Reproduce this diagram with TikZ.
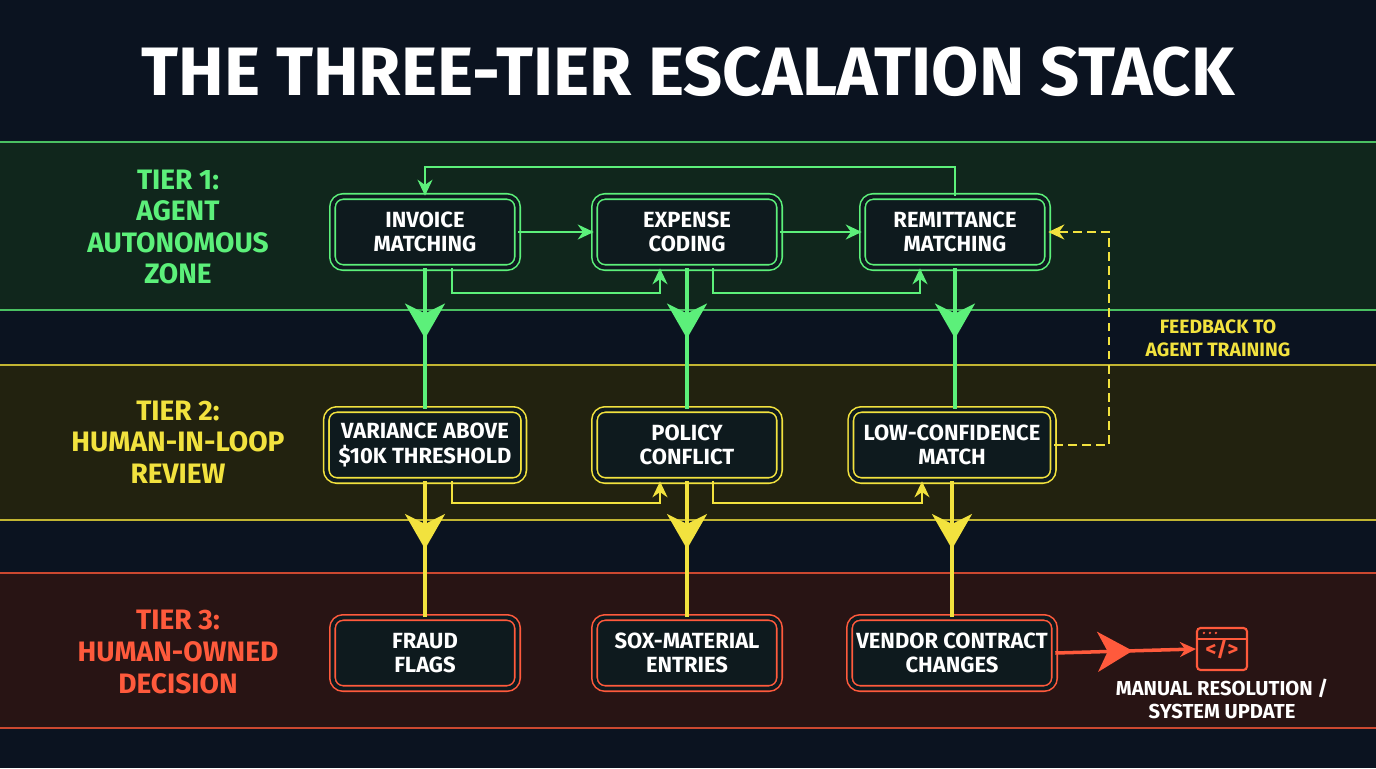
\documentclass[tikz,border=0pt]{standalone}
\usepackage{fontspec}
\setmainfont{Fira Sans}
\usetikzlibrary{arrows.meta,positioning,decorations.markings,calc}
\definecolor{bgdark}{HTML}{0B1320}
\definecolor{tonegreen}{HTML}{5CF07A}
\definecolor{toneyellow}{HTML}{F2E23E}
\definecolor{tonered}{HTML}{FF5A3C}
\definecolor{bandgreen}{HTML}{10261C}
\definecolor{bandyellow}{HTML}{22220F}
\definecolor{bandred}{HTML}{281414}
\definecolor{boxfill}{HTML}{0E1A1E}
\tikzset{
  tierbox/.style={draw=#1, double=boxfill, double distance=2.2pt, line width=0.9pt,
    rounded corners=6pt, fill=boxfill, minimum width=3.7cm, minimum height=1.42cm,
    align=center, text=white, font=\bfseries\fontsize{12.5}{14}\selectfont},
  tierlabel/.style={text=#1, align=center, font=\bfseries\fontsize{16}{18}\selectfont},
  flow/.style={draw=#1, line width=1.3pt, -{Stealth[length=3.2mm,width=3mm]}},
  drop/.style={draw=#1, line width=1.8pt, postaction={decorate},
    decoration={markings, mark=at position 0.5 with {\arrow[#1]{Stealth[length=7mm,width=8mm,inset=2mm]}}}},
  bandline/.style={draw=#1, line width=1.4pt},
}
\begin{document}
\begin{tikzpicture}[x=0.02cm,y=-0.02cm]
  \fill[bgdark] (0,0) rectangle (1376,768);
  \useasboundingbox (0,0) rectangle (1376,768);
  % bands
  \fill[bandgreen] (0,142) rectangle (1376,310);
  \fill[bandyellow] (0,365) rectangle (1376,520);
  \fill[bandred] (0,573) rectangle (1376,728);
  \foreach \yy/\cc in {142/tonegreen,310/tonegreen,365/toneyellow,520/toneyellow,573/tonered,728/tonered}
    \draw[bandline=\cc!80!black] (0,\yy) -- (1376,\yy);
  % title
  \node[text=white, font=\bfseries\fontsize{39}{42}\selectfont] (title) at (688,72) {THE THREE-TIER ESCALATION STACK};
  % tier labels
  \node[tierlabel=tonegreen] (tier1) at (178,227) {TIER 1:\\AGENT\\AUTONOMOUS\\ZONE};
  \node[tierlabel=toneyellow] (tier2) at (178,442) {TIER 2:\\HUMAN-IN-LOOP\\REVIEW};
  \node[tierlabel=tonered] (tier3) at (178,652) {TIER 3:\\HUMAN-OWNED\\DECISION};
  % tier 1 boxes
  \node[tierbox=tonegreen] (invoice) at (425,232) {INVOICE\\MATCHING};
  \node[tierbox=tonegreen] (expense) at (687,232) {EXPENSE\\CODING};
  \node[tierbox=tonegreen] (remit) at (955,232) {REMITTANCE\\MATCHING};
  % tier 2 boxes
  \node[tierbox=toneyellow, minimum width=3.95cm] (variance) at (425,445) {VARIANCE ABOVE\\\$10K THRESHOLD};
  \node[tierbox=toneyellow] (policy) at (687,445) {POLICY\\CONFLICT};
  \node[tierbox=toneyellow, minimum width=4.05cm] (lowconf) at (952,445) {LOW-CONFIDENCE\\MATCH};
  % tier 3 boxes
  \node[tierbox=tonered] (fraud) at (425,653) {FRAUD\\FLAGS};
  \node[tierbox=tonered] (sox) at (687,653) {SOX-MATERIAL\\ENTRIES};
  \node[tierbox=tonered, minimum width=4.1cm] (vendor) at (952,653) {VENDOR CONTRACT\\CHANGES};
  % tier 1 flow
  \draw[flow=tonegreen] (invoice) -- (expense);
  \draw[flow=tonegreen] (expense) -- (remit);
  \draw[flow=tonegreen] (remit.north) -- ++(0,-29) -| (invoice.north);
  \draw[flow=tonegreen] ($(invoice.south)+(27,0)$) |- (660,293) -- ($(expense.south)+(-27,0)$);
  \draw[flow=tonegreen] ($(expense.south)+(26,0)$) |- (920,293) -- ($(remit.south)+(-35,0)$);
  % tier 2 flow
  \draw[flow=toneyellow] ($(variance.south)+(27,0)$) |- (660,503) -- ($(policy.south)+(-27,0)$);
  \draw[flow=toneyellow] ($(policy.south)+(26,0)$) |- (922,503) -- ($(lowconf.south)+(-30,0)$);
  % escalation drops
  \draw[drop=tonegreen] (invoice) -- (variance);
  \draw[drop=tonegreen] (expense) -- (policy);
  \draw[drop=tonegreen] (remit.south) -- (remit.south |- lowconf.north);
  \draw[drop=toneyellow] (variance) -- (fraud);
  \draw[drop=toneyellow] (policy) -- (sox);
  \draw[drop=toneyellow] (lowconf) -- (vendor);
  % feedback
  \draw[flow=toneyellow, line width=1.5pt, dash pattern=on 5pt off 3pt] (lowconf.east) -- ++(55,0) |- (remit.east);
  \node[text=toneyellow, align=center, font=\bfseries\fontsize{11}{13}\selectfont] (feedback) at (1218,338) {FEEDBACK TO\\AGENT TRAINING};
  % resolution
  \node[draw=tonered, line width=1.2pt, rounded corners=2pt, minimum width=1cm, minimum height=0.84cm,
        text=tonered, font=\bfseries\fontsize{12}{12}\selectfont] (icon) at (1222,649) {\raisebox{-2pt}{</>}};
  \foreach \dx in {8,14,20}
    \fill[tonered] ($(icon.north west)+(\dx,6)$) circle (1.3);
  \draw[tonered, line width=1pt] ($(icon.north west)+(0,12)$) -- ($(icon.north east)+(0,12)$);
  \draw[flow=tonered, line width=2pt, postaction={decorate},
    decoration={markings, mark=at position 0.55 with {\arrow[tonered]{Stealth[length=7mm,width=8mm,inset=2mm]}}}]
    (vendor.east) -- (icon.west);
  \node[text=white, align=center, font=\bfseries\fontsize{11.5}{13}\selectfont, below=1pt of icon] (manual) {MANUAL RESOLUTION /\\SYSTEM UPDATE};
\end{tikzpicture}
\end{document}
